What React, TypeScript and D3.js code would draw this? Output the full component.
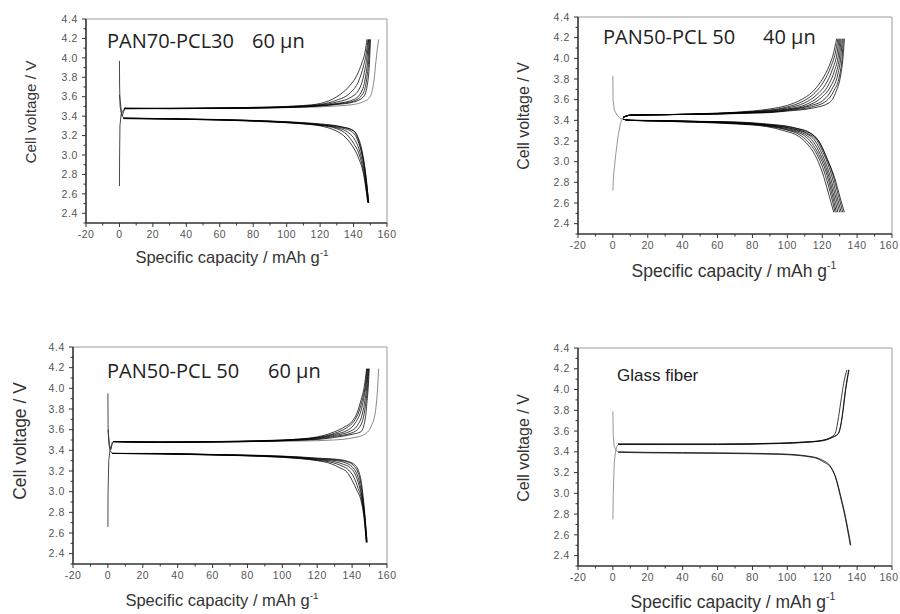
import React from 'react';
import * as d3 from 'd3';

type Pt = [number, number];

// ---------- axis tick values ----------
const xMajorTicks = [-20, 0, 20, 40, 60, 80, 100, 120, 140, 160];
const xMinorTicks = [-10, 10, 30, 50, 70, 90, 110, 130, 150];
const yMajorTicks = [2.4, 2.6, 2.8, 3.0, 3.2, 3.4, 3.6, 3.8, 4.0, 4.2, 4.4];
const yMinorTicks = [2.3, 2.5, 2.7, 2.9, 3.1, 3.3, 3.5, 3.7, 3.9, 4.1, 4.3];
const xDomain: Pt = [-20, 160];
const yDomain: Pt = [2.3, 4.4];

// ---------- Panel 1 : PAN70-PCL30 60 µm ----------
const p1Init: Pt[][] = [
  [[0, 2.68], [0.1, 3.0], [0.3, 3.3], [1, 3.42], [2, 3.45], [3, 3.48]],
  [[0, 3.97], [0.1, 3.7], [0.4, 3.5], [1.2, 3.42], [2.5, 3.38]],
  [[0, 3.62], [1.5, 3.40], [3.5, 3.49]],
];
const p1Charge: Pt[][] = [
  [[3, 3.48], [30, 3.48], [60, 3.485], [90, 3.495], [110, 3.51], [120, 3.53], [130, 3.60], [137, 3.70], [142, 3.82], [145, 3.95], [147, 4.07], [148, 4.19]],
  [[3, 3.475], [30, 3.48], [60, 3.485], [90, 3.49], [110, 3.505], [120, 3.52], [130, 3.565], [138, 3.64], [143, 3.76], [146, 3.92], [147.8, 4.07], [148.6, 4.19]],
  [[3, 3.48], [30, 3.478], [60, 3.482], [90, 3.49], [110, 3.50], [120, 3.515], [130, 3.545], [139, 3.60], [144, 3.70], [146.8, 3.88], [148.3, 4.05], [149, 4.19]],
  [[3, 3.48], [30, 3.48], [60, 3.48], [90, 3.488], [110, 3.50], [120, 3.51], [130, 3.53], [140, 3.57], [145, 3.66], [147.5, 3.84], [148.8, 4.03], [149.4, 4.19]],
  [[3, 3.48], [30, 3.477], [60, 3.48], [90, 3.486], [110, 3.497], [120, 3.507], [130, 3.525], [140, 3.555], [145.5, 3.63], [148, 3.80], [149.2, 4.0], [149.8, 4.19]],
  [[3, 3.478], [30, 3.478], [60, 3.479], [90, 3.485], [110, 3.495], [120, 3.505], [130, 3.52], [140, 3.545], [146, 3.60], [148.5, 3.75], [149.6, 3.98], [150.1, 4.19]],
];
const p1ChargeFirst: Pt[] = [[3, 3.48], [40, 3.48], [80, 3.485], [110, 3.49], [130, 3.505], [140, 3.52], [146, 3.55], [149, 3.58], [151, 3.65], [152.3, 3.78], [153.3, 3.95], [154.2, 4.09], [155, 4.19]];
const p1Discharge: Pt[][] = [
  [[2.5, 3.375], [30, 3.37], [60, 3.36], [90, 3.34], [110, 3.32], [120, 3.30], [128, 3.26], [134, 3.20], [139, 3.10], [143, 2.97], [146, 2.80], [148.5, 2.51]],
  [[2.5, 3.375], [30, 3.37], [60, 3.36], [90, 3.343], [110, 3.322], [120, 3.305], [130, 3.27], [136, 3.21], [140, 3.12], [143.5, 3.0], [146.3, 2.80], [148.6, 2.51]],
  [[2.5, 3.378], [30, 3.372], [60, 3.362], [90, 3.345], [110, 3.325], [120, 3.31], [130, 3.28], [137, 3.23], [141, 3.15], [144, 3.02], [146.5, 2.82], [148.8, 2.51]],
  [[2.5, 3.378], [30, 3.372], [60, 3.363], [90, 3.347], [110, 3.327], [120, 3.31], [131, 3.285], [138, 3.25], [142, 3.17], [144.5, 3.04], [146.8, 2.83], [148.9, 2.51]],
  [[2.5, 3.38], [30, 3.373], [60, 3.364], [90, 3.348], [110, 3.33], [120, 3.315], [132, 3.29], [139, 3.26], [142.5, 3.19], [145, 3.05], [147, 2.84], [149, 2.51]],
  [[2.5, 3.38], [30, 3.374], [60, 3.365], [90, 3.35], [110, 3.333], [120, 3.32], [133, 3.29], [140, 3.25], [143, 3.15], [145.3, 3.0], [147.2, 2.80], [149.1, 2.51]],
];

// ---------- Panel 2 : PAN50-PCL50 40 µm ----------
const p2Init: Pt[][] = [
  [[0, 2.72], [0.3, 2.85], [1.5, 3.05], [3, 3.25], [4.3, 3.37], [6, 3.43]],
  [[0, 3.83], [0.1, 3.60], [0.8, 3.50], [2.4, 3.45], [4, 3.42], [6, 3.41]],
];
const p2Charge: Pt[][] = [
  [[6, 3.43], [10, 3.45], [30, 3.455], [60, 3.47], [80, 3.49], [90, 3.51], [100, 3.545], [108, 3.60], [114, 3.67], [119, 3.77], [123, 3.89], [126, 4.02], [128.3, 4.19]],
  [[6, 3.43], [10, 3.45], [30, 3.455], [60, 3.468], [80, 3.485], [90, 3.50], [100, 3.53], [109, 3.585], [116, 3.67], [121, 3.78], [125, 3.92], [127.5, 4.05], [129, 4.19]],
  [[6, 3.43], [10, 3.45], [30, 3.455], [60, 3.466], [80, 3.482], [90, 3.495], [100, 3.52], [110, 3.57], [117, 3.65], [122, 3.75], [126, 3.90], [128.5, 4.05], [129.6, 4.19]],
  [[6, 3.43], [10, 3.45], [30, 3.455], [60, 3.465], [80, 3.48], [90, 3.49], [100, 3.51], [111, 3.555], [118, 3.63], [123.5, 3.74], [127, 3.88], [129.3, 4.04], [130.2, 4.19]],
  [[6, 3.43], [10, 3.45], [30, 3.455], [60, 3.464], [80, 3.477], [90, 3.485], [100, 3.505], [112, 3.545], [119.5, 3.62], [124.5, 3.72], [128, 3.86], [130, 4.03], [130.8, 4.19]],
  [[6, 3.43], [10, 3.45], [30, 3.455], [60, 3.463], [80, 3.475], [90, 3.48], [100, 3.50], [113, 3.54], [121, 3.60], [125.5, 3.70], [129, 3.85], [130.7, 4.02], [131.5, 4.19]],
  [[6, 3.43], [10, 3.45], [30, 3.455], [60, 3.462], [80, 3.472], [90, 3.478], [100, 3.495], [114, 3.53], [122.5, 3.59], [126.5, 3.68], [130, 3.84], [131.4, 4.01], [132.1, 4.19]],
  [[6, 3.43], [10, 3.45], [30, 3.455], [60, 3.46], [80, 3.47], [90, 3.475], [100, 3.49], [115, 3.52], [124, 3.57], [127.5, 3.66], [130.7, 3.85], [132, 4.02], [132.7, 4.19]],
];
const p2Discharge: Pt[][] = [
  [[6, 3.41], [10, 3.40], [30, 3.39], [50, 3.38], [70, 3.365], [88, 3.34], [98, 3.30], [107, 3.24], [112, 3.16], [116, 3.06], [120, 2.90], [123.5, 2.70], [126.6, 2.51]],
  [[6, 3.41], [10, 3.40], [30, 3.392], [50, 3.382], [70, 3.37], [88, 3.345], [99, 3.31], [108, 3.25], [113, 3.17], [117, 3.07], [121, 2.91], [124.5, 2.71], [127.4, 2.51]],
  [[6, 3.41], [10, 3.40], [30, 3.393], [50, 3.384], [70, 3.37], [88, 3.35], [100, 3.31], [109, 3.26], [114, 3.18], [118, 3.07], [122, 2.91], [125.3, 2.71], [128.1, 2.51]],
  [[6, 3.41], [10, 3.40], [30, 3.394], [50, 3.386], [70, 3.375], [88, 3.35], [101, 3.315], [110, 3.265], [115, 3.19], [119, 3.07], [123, 2.90], [126.2, 2.70], [129, 2.51]],
  [[6, 3.41], [10, 3.40], [30, 3.395], [50, 3.387], [70, 3.375], [88, 3.355], [102, 3.32], [111, 3.27], [116, 3.20], [120, 3.07], [124, 2.89], [127.2, 2.69], [130, 2.51]],
  [[6, 3.41], [10, 3.40], [30, 3.396], [50, 3.388], [70, 3.38], [88, 3.36], [103, 3.32], [112, 3.27], [117, 3.205], [121, 3.07], [125, 2.89], [128.2, 2.68], [130.9, 2.51]],
  [[6, 3.41], [10, 3.40], [30, 3.397], [50, 3.389], [70, 3.38], [88, 3.36], [104, 3.325], [113, 3.275], [118, 3.20], [122, 3.06], [126, 2.88], [129.3, 2.67], [131.8, 2.51]],
  [[6, 3.41], [10, 3.40], [30, 3.398], [50, 3.39], [70, 3.385], [88, 3.365], [105, 3.325], [114, 3.27], [119, 3.17], [123, 3.02], [127, 2.85], [130.3, 2.65], [132.7, 2.51]],
];

// ---------- Panel 3 : PAN50-PCL50 60 µm ----------
const p3Init: Pt[][] = [
  [[0, 2.66], [0.1, 3.0], [0.5, 3.3], [1.2, 3.40], [2, 3.44], [3, 3.485]],
  [[0, 3.95], [0.1, 3.65], [0.5, 3.47], [1.2, 3.40], [2.5, 3.37]],
  [[0, 3.6], [1, 3.45], [1.8, 3.41], [2.5, 3.48]],
];
const p3Charge: Pt[][] = [
  [[3, 3.485], [30, 3.48], [60, 3.485], [90, 3.495], [110, 3.51], [120, 3.53], [130, 3.58], [136, 3.63], [140, 3.68], [143, 3.77], [145, 3.88], [147, 4.02], [148.3, 4.19]],
  [[3, 3.485], [30, 3.48], [60, 3.484], [90, 3.493], [110, 3.508], [120, 3.525], [130, 3.565], [137, 3.62], [141, 3.68], [144, 3.78], [146, 3.90], [147.7, 4.04], [148.6, 4.19]],
  [[3, 3.485], [30, 3.48], [60, 3.483], [90, 3.491], [110, 3.505], [120, 3.52], [130, 3.555], [138, 3.60], [142, 3.67], [145, 3.78], [146.9, 3.92], [148.2, 4.06], [148.9, 4.19]],
  [[3, 3.485], [30, 3.478], [60, 3.482], [90, 3.49], [110, 3.503], [120, 3.515], [130, 3.545], [139, 3.585], [143, 3.64], [145.8, 3.75], [147.5, 3.90], [148.6, 4.05], [149.2, 4.19]],
  [[3, 3.485], [30, 3.478], [60, 3.481], [90, 3.488], [110, 3.50], [120, 3.51], [130, 3.535], [140, 3.57], [144, 3.62], [146.5, 3.72], [148, 3.88], [149, 4.05], [149.5, 4.19]],
  [[3, 3.485], [30, 3.477], [60, 3.48], [90, 3.487], [110, 3.498], [120, 3.505], [130, 3.525], [140, 3.555], [145, 3.58], [147.5, 3.70], [148.6, 3.88], [149.4, 4.05], [149.8, 4.19]],
];
const p3ChargeFirst: Pt[] = [[3, 3.48], [40, 3.48], [80, 3.485], [110, 3.49], [129.4, 3.50], [140, 3.52], [146.6, 3.55], [149.5, 3.59], [151.4, 3.65], [153, 3.74], [153.9, 3.85], [154.6, 4.0], [155.2, 4.19]];
const p3Discharge: Pt[][] = [
  [[2.5, 3.37], [30, 3.365], [60, 3.355], [90, 3.34], [110, 3.32], [120, 3.30], [128, 3.27], [133, 3.23], [137, 3.19], [140, 3.11], [142.8, 3.01], [145.3, 2.90], [147, 2.72], [148.1, 2.51]],
  [[2.5, 3.37], [30, 3.366], [60, 3.356], [90, 3.342], [110, 3.323], [120, 3.305], [129, 3.28], [134, 3.25], [138, 3.21], [141, 3.14], [143.5, 3.03], [145.6, 2.91], [147.2, 2.72], [148.2, 2.51]],
  [[2.5, 3.37], [30, 3.367], [60, 3.357], [90, 3.344], [110, 3.326], [120, 3.31], [130, 3.29], [135, 3.265], [139, 3.23], [142, 3.16], [144, 3.06], [145.8, 2.92], [147.3, 2.72], [148.3, 2.51]],
  [[2.5, 3.37], [30, 3.368], [60, 3.358], [90, 3.346], [110, 3.33], [120, 3.315], [131, 3.30], [136, 3.28], [140, 3.24], [142.5, 3.18], [144.5, 3.07], [146, 2.92], [147.4, 2.72], [148.4, 2.51]],
  [[2.5, 3.37], [30, 3.369], [60, 3.359], [90, 3.348], [110, 3.333], [120, 3.32], [132, 3.305], [137, 3.29], [141, 3.25], [143, 3.20], [145, 3.08], [146.2, 2.93], [147.5, 2.72], [148.5, 2.51]],
  [[2.5, 3.37], [30, 3.37], [60, 3.36], [90, 3.35], [110, 3.336], [120, 3.325], [133, 3.31], [138, 3.29], [141.5, 3.26], [143.5, 3.21], [145.2, 3.10], [146.4, 2.94], [147.6, 2.72], [148.6, 2.51]],
];

// ---------- Panel 4 : Glass fiber ----------
const p4Init: Pt[][] = [
  [[0, 2.75], [0.2, 3.0], [0.8, 3.3], [1.5, 3.40], [2.2, 3.45], [3, 3.47]],
  [[0, 3.79], [0.2, 3.55], [0.8, 3.45], [2, 3.41], [3, 3.40]],
];
const p4Charge: Pt[][] = [
  [[3, 3.47], [30, 3.47], [60, 3.47], [96, 3.48], [110, 3.49], [120, 3.51], [125, 3.54], [127.5, 3.58], [128.5, 3.65], [129.4, 3.74], [131, 3.92], [132.3, 4.06], [134.2, 4.19]],
  [[3, 3.475], [30, 3.475], [60, 3.475], [96, 3.484], [110, 3.495], [120, 3.51], [125, 3.535], [128, 3.56], [129.4, 3.58], [130.5, 3.65], [131.4, 3.74], [133.3, 4.0], [135.2, 4.19]],
  [[3, 3.475], [30, 3.474], [60, 3.474], [96, 3.482], [110, 3.493], [120, 3.505], [126, 3.54], [129, 3.57], [130.5, 3.64], [131.6, 3.75], [133.5, 4.0], [135.4, 4.19]],
];
const p4Discharge: Pt[][] = [
  [[3, 3.40], [20, 3.395], [60, 3.39], [96, 3.38], [115.1, 3.35], [120, 3.32], [124.7, 3.26], [127.5, 3.16], [130.4, 2.97], [133, 2.78], [136.1, 2.50]],
  [[3, 3.395], [20, 3.39], [60, 3.385], [96, 3.375], [115, 3.345], [121, 3.30], [125.3, 3.24], [128, 3.14], [130.8, 2.96], [133.4, 2.77], [136.4, 2.50]],
];

type PanelSpec = {
  left: number; right: number; top: number; bottom: number;
  title1: string; title1X: number; title2: string; title2X: number; titleY: number; titleSize: number; titleFont: string;
  init: Pt[][]; charge: Pt[][]; discharge: Pt[][]; extra: Pt[][];
  initGray: boolean;
  yLabelX: number; yLabelY: number; yLabelSize: number;
  xLabelX: number; xLabelY: number; xLabelSize: number;
};

const panels: PanelSpec[] = [
  {
    left: 86, right: 387, top: 19, bottom: 223,
    title1: 'PAN70-PCL30', title1X: 107, title2: '60 µn', title2X: 252, titleY: 48, titleSize: 20, titleFont: "'Open Sans', sans-serif",
    init: p1Init, charge: p1Charge, discharge: p1Discharge, extra: [p1ChargeFirst], initGray: false,
    yLabelX: 31, yLabelY: 112, yLabelSize: 15.3,
    xLabelX: 232, xLabelY: 263, xLabelSize: 16.5,
  },
  {
    left: 578, right: 892, top: 17, bottom: 234,
    title1: 'PAN50-PCL 50', title1X: 603, title2: '40 µn', title2X: 763, titleY: 44, titleSize: 20, titleFont: "'Open Sans', sans-serif",
    init: p2Init, charge: p2Charge, discharge: p2Discharge, extra: [], initGray: true,
    yLabelX: 523, yLabelY: 116, yLabelSize: 16,
    xLabelX: 734, xLabelY: 277, xLabelSize: 17.5,
  },
  {
    left: 73, right: 387, top: 347, bottom: 564,
    title1: 'PAN50-PCL 50', title1X: 107, title2: '60 µn', title2X: 268, titleY: 378, titleSize: 20, titleFont: "'Open Sans', sans-serif",
    init: p3Init, charge: p3Charge, discharge: p3Discharge, extra: [p3ChargeFirst], initGray: false,
    yLabelX: 20, yLabelY: 441, yLabelSize: 17.5,
    xLabelX: 222, xLabelY: 606, xLabelSize: 16.5,
  },
  {
    left: 578, right: 892, top: 348, bottom: 566,
    title1: 'Glass fiber', title1X: 617, title2: '', title2X: 0, titleY: 381, titleSize: 17, titleFont: "'Liberation Sans', Arial, sans-serif",
    init: p4Init, charge: p4Charge, discharge: p4Discharge, extra: [], initGray: true,
    yLabelX: 523, yLabelY: 448, yLabelSize: 16,
    xLabelX: 733, xLabelY: 608, xLabelSize: 17.5,
  },
];

const sans = "'Liberation Sans', Arial, sans-serif";
const PAGE_W = 900;

function Panel({ p }: { p: PanelSpec }) {
  const x = d3.scaleLinear().domain(xDomain).range([p.left, p.right]);
  const y = d3.scaleLinear().domain(yDomain).range([p.bottom, p.top]);
  const smooth = d3.line<Pt>().x(d => x(d[0])).y(d => y(d[1])).curve(d3.curveMonotoneX);
  const straight = d3.line<Pt>().x(d => x(d[0])).y(d => y(d[1]));
  return (
    <g>
      {/* frame */}
      <line x1={p.left} x2={p.right} y1={p.top} y2={p.top} stroke="#9a9a9a" strokeWidth={1} />
      <line x1={p.right} x2={p.right} y1={p.top} y2={p.bottom} stroke="#9a9a9a" strokeWidth={1} />
      {/* curves */}
      {p.init.map((c, i) => (
        <path key={'i' + i} d={straight(c) || ''} fill="none" stroke={p.initGray ? '#8a8a8a' : '#333'} strokeWidth={0.9} />
      ))}
      {p.extra.map((c, i) => (
        <path key={'e' + i} d={smooth(c) || ''} fill="none" stroke="#555" strokeWidth={0.7} />
      ))}
      {p.charge.map((c, i) => (
        <path key={'c' + i} d={smooth(c) || ''} fill="none" stroke="#000" strokeWidth={0.9} strokeOpacity={0.85} />
      ))}
      {p.discharge.map((c, i) => (
        <path key={'d' + i} d={smooth(c) || ''} fill="none" stroke="#000" strokeWidth={0.9} strokeOpacity={0.85} />
      ))}
      {/* axes */}
      <line x1={p.left} x2={p.right} y1={p.bottom} y2={p.bottom} stroke="#333" strokeWidth={1.6} />
      <line x1={p.left} x2={p.left} y1={p.top} y2={p.bottom} stroke="#333" strokeWidth={1.6} />
      {xMajorTicks.map(t => {
        const tx = x(t);
        const lx = Math.min(tx, PAGE_W - 11);
        return (
          <g key={'xt' + t}>
            <line x1={tx} x2={tx} y1={p.bottom} y2={p.bottom + 4} stroke="#333" strokeWidth={1} />
            <text x={lx} y={p.bottom + 15} textAnchor="middle" fontSize={10.5} fill="#555" fontFamily={sans} letterSpacing={0.5}>{t}</text>
          </g>
        );
      })}
      {xMinorTicks.map(t => (
        <line key={'xm' + t} x1={x(t)} x2={x(t)} y1={p.bottom} y2={p.bottom + 2.5} stroke="#333" strokeWidth={1} />
      ))}
      {yMajorTicks.map(t => (
        <g key={'yt' + t}>
          <line x1={p.left - 4} x2={p.left} y1={y(t)} y2={y(t)} stroke="#333" strokeWidth={1} />
          <text x={p.left - 8} y={y(t)} dy="0.35em" textAnchor="end" fontSize={10.5} fill="#555" fontFamily={sans} letterSpacing={0.6}>{t.toFixed(1)}</text>
        </g>
      ))}
      {yMinorTicks.map(t => (
        <line key={'ym' + t} x1={p.left - 2.5} x2={p.left} y1={y(t)} y2={y(t)} stroke="#333" strokeWidth={1} />
      ))}
      {/* titles */}
      <text x={p.title1X} y={p.titleY} fontSize={p.titleSize} fill="#222" fontFamily={p.titleFont}>{p.title1}</text>
      {p.title2 && (
        <text x={p.title2X} y={p.titleY} fontSize={p.titleSize} fill="#222" fontFamily={p.titleFont}>{p.title2}</text>
      )}
      {/* axis labels */}
      <text transform={`translate(${p.yLabelX},${p.yLabelY}) rotate(-90)`} dy="0.35em" textAnchor="middle" fontSize={p.yLabelSize} fill="#333" fontFamily={sans}>Cell voltage / V</text>
      <text x={p.xLabelX} y={p.xLabelY} textAnchor="middle" fontSize={p.xLabelSize} fill="#333" fontFamily={sans}>
        Specific capacity / mAh g<tspan dy={-p.xLabelSize * 0.45} fontSize={p.xLabelSize * 0.6}>-1</tspan>
      </text>
    </g>
  );
}

export default function App() {
  return (
    <svg width={900} height={614} style={{ position: 'absolute', left: 0, top: 0, background: '#fff' }}>
      <rect x={0} y={0} width={900} height={614} fill="#fff" />
      {panels.map((p, i) => <Panel key={i} p={p} />)}
    </svg>
  );
}
